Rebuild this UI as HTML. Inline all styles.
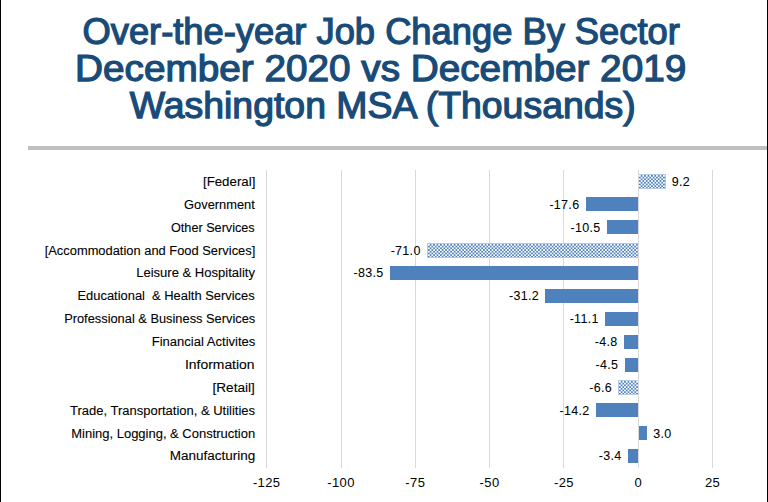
<!DOCTYPE html>
<html><head><meta charset="utf-8"><style>
html,body{margin:0;padding:0;background:#fff;}
body{width:768px;height:502px;position:relative;overflow:hidden;font-family:"Liberation Sans",sans-serif;}
.bl{position:absolute;left:0;top:0;width:1px;height:502px;background:#000;}
.br{position:absolute;left:767px;top:0;width:1px;height:502px;background:#000;}
.hr{position:absolute;left:28px;top:146px;width:739px;height:4px;background:#bfbfbf;}
.title{position:absolute;left:0;width:764px;text-align:center;color:#194b79;font-size:36px;line-height:36px;white-space:nowrap;}
.title span{display:inline-block;-webkit-text-stroke:1.25px #194b79;}
.gl{position:absolute;top:170px;height:298px;width:1px;background:#d9d9d9;}
.bar{position:absolute;height:14px;background:#4f81bd;}
.pat{box-sizing:border-box;border:1px solid #b4c9e4;background:repeating-conic-gradient(#4f81bd 0 25%,#fff 0 50%) 0 0/3.45px 3.45px;}
.cat{position:absolute;right:513px;font-size:12.5px;line-height:12px;height:12px;transform-origin:100% 50%;white-space:nowrap;color:#000;-webkit-text-stroke:0.1px #000;}
.dl{position:absolute;font-size:12.5px;letter-spacing:0.3px;line-height:13px;white-space:nowrap;color:#000;-webkit-text-stroke:0.05px #000;}
.ax{position:absolute;top:476px;width:60px;text-align:center;font-size:13px;letter-spacing:0.4px;text-indent:0.4px;line-height:13px;color:#000;}
</style></head><body>
<div class="bl"></div><div class="br"></div>
<div class="title" style="top:13.5px"><span style="transform:translateX(-1px) scaleX(1.0085)">Over-the-year Job Change By Sector</span></div>
<div class="title" style="top:50.5px"><span style="transform:translateX(-1.5px) scaleX(1.0755)">December 2020 vs December 2019</span></div>
<div class="title" style="top:87.5px"><span style="transform:translateX(0.3px) scaleX(1.039)">Washington MSA (Thousands)</span></div>
<div class="hr"></div>
<div class="gl" style="left:266px"></div>
<div class="gl" style="left:341px"></div>
<div class="gl" style="left:415px"></div>
<div class="gl" style="left:489px"></div>
<div class="gl" style="left:563px"></div>
<div class="gl" style="left:712px"></div>
<div class="bar pat" style="left:637.70px;top:174.00px;width:28.35px;height:15px"></div>
<div class="cat" style="top:175.80px;transform:scaleX(1.062)">[Federal]</div>
<div class="dl" style="left:671.75px;top:175.80px">9.2</div>
<div class="bar" style="left:585.88px;top:197.12px;width:52.32px"></div>
<div class="cat" style="top:198.65px;transform:scaleX(1.028)">Government</div>
<div class="dl neg" style="right:188.62px;top:198.65px">-17.6</div>
<div class="bar" style="left:606.99px;top:220.04px;width:31.21px"></div>
<div class="cat" style="top:221.50px;transform:scaleX(1.012)">Other Services</div>
<div class="dl neg" style="right:167.51px;top:221.50px">-10.5</div>
<div class="bar pat" style="left:426.63px;top:242.76px;width:212.07px;height:15px"></div>
<div class="cat" style="top:245.35px;transform:scaleX(1.031)">[Accommodation and Food Services]</div>
<div class="dl neg" style="right:347.37px;top:245.35px">-71.0</div>
<div class="bar" style="left:389.97px;top:265.88px;width:248.23px"></div>
<div class="cat" style="top:267.20px;transform:scaleX(1.042)">Leisure &amp; Hospitality</div>
<div class="dl neg" style="right:384.53px;top:267.20px">-83.5</div>
<div class="bar" style="left:545.45px;top:288.80px;width:92.75px"></div>
<div class="cat" style="top:290.05px;transform:scaleX(1.032)">Educational&nbsp; &amp; Health Services</div>
<div class="dl neg" style="right:229.05px;top:290.05px">-31.2</div>
<div class="bar" style="left:605.20px;top:311.72px;width:33.00px"></div>
<div class="cat" style="top:312.90px;transform:scaleX(1.026)">Professional &amp; Business Services</div>
<div class="dl neg" style="right:169.30px;top:312.90px">-11.1</div>
<div class="bar" style="left:623.93px;top:334.64px;width:14.27px"></div>
<div class="cat" style="top:335.75px;transform:scaleX(1.043)">Financial Activites</div>
<div class="dl neg" style="right:150.57px;top:335.75px">-4.8</div>
<div class="bar" style="left:624.82px;top:357.56px;width:13.38px"></div>
<div class="cat" style="top:358.60px;transform:scaleX(1.112)">Information</div>
<div class="dl neg" style="right:149.68px;top:358.60px">-4.5</div>
<div class="bar pat" style="left:618.08px;top:380.28px;width:20.62px;height:15px"></div>
<div class="cat" style="top:382.45px;transform:scaleX(1.092)">[Retail]</div>
<div class="dl neg" style="right:155.92px;top:382.45px">-6.6</div>
<div class="bar" style="left:595.99px;top:403.40px;width:42.21px"></div>
<div class="cat" style="top:405.30px;transform:scaleX(1.039)">Trade, Transportation, &amp; Utilities</div>
<div class="dl neg" style="right:178.51px;top:405.30px">-14.2</div>
<div class="bar" style="left:638.20px;top:426.32px;width:8.92px"></div>
<div class="cat" style="top:428.15px;transform:scaleX(1.038)">Mining, Logging, &amp; Construction</div>
<div class="dl" style="left:653.32px;top:428.15px">3.0</div>
<div class="bar" style="left:628.09px;top:449.24px;width:10.11px"></div>
<div class="cat" style="top:450.00px;transform:scaleX(1.079)">Manufacturing</div>
<div class="dl neg" style="right:146.41px;top:450.00px">-3.4</div>
<div class="gl" style="left:638px"></div>
<div class="ax" style="left:236.50px">-125</div>
<div class="ax" style="left:310.80px">-100</div>
<div class="ax" style="left:385.10px">-75</div>
<div class="ax" style="left:459.40px">-50</div>
<div class="ax" style="left:533.80px">-25</div>
<div class="ax" style="left:608.10px">0</div>
<div class="ax" style="left:682.40px">25</div>
</body></html>
